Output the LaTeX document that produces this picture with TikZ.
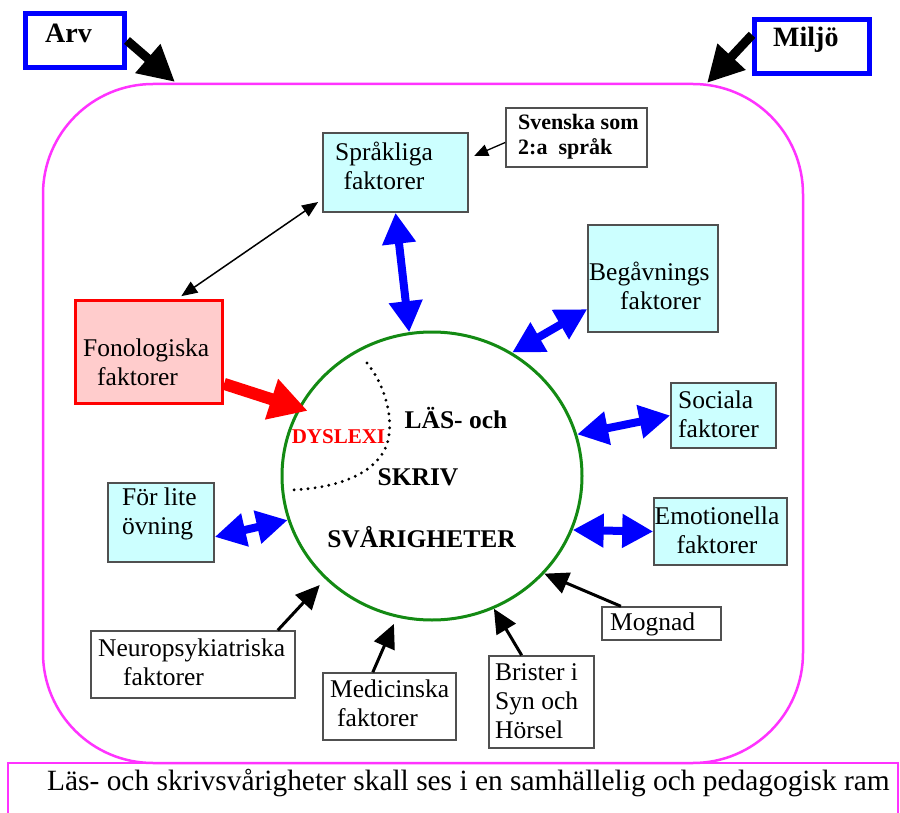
\documentclass[tikz,border=0pt]{standalone}
\usepackage{fontspec}
\setmainfont{Liberation Serif}
\usetikzlibrary{arrows.meta,shapes.geometric}
\definecolor{cyanfill}{HTML}{CCFFFF}
\definecolor{pinkfill}{HTML}{FFCCCC}
\definecolor{framecol}{HTML}{FF33FF}
\definecolor{circgreen}{HTML}{138A13}
\definecolor{boxline}{HTML}{505050}
\begin{document}
\begin{tikzpicture}[x=1pt,y=-1pt,
  box/.style={draw=boxline, line width=1.5pt, inner sep=0pt, rectangle},
  cbox/.style={box, fill=cyanfill},
  wbox/.style={box, fill=white},
  bluebox/.style={draw=blue, line width=5pt, inner sep=0pt, rectangle, fill=white},
  txt/.style={inner sep=0pt, font=\fontsize{25.5}{29}\selectfont},
  btxt/.style={inner sep=0pt, font=\bfseries\fontsize{25.5}{29}\selectfont},
  bluearr/.style={draw=blue, line width=8pt, {Triangle[length=31pt,width=32pt]}-{Triangle[length=31pt,width=32pt]}},
  blackarr/.style={draw=black, line width=3pt, -{Triangle[length=24pt,width=22pt]}},
  bigarr/.style={draw=black, line width=9pt, -{Triangle[length=36pt,width=36pt]}},
  redarr/.style={draw=red, line width=12pt, -{Triangle[length=38pt,width=40pt]}},
  thinarr/.style={draw=black, line width=1.3pt, -{Triangle[length=14pt,width=12pt]}},
  thindbl/.style={draw=black, line width=1.5pt, {Triangle[length=16pt,width=13pt]}-{Triangle[length=16pt,width=13pt]}}
]
\useasboundingbox (0,0) rectangle (900,813);
\fill[white] (0,0) rectangle (900,813);

% frames
\draw[framecol, line width=2.5pt, rounded corners=110pt] (43,84) rectangle (803,763);
\draw[framecol, line width=2.5pt] (8,820) -- (8,763) -- (898,763) -- (898,820);
\node[txt, font=\fontsize{29.4}{32}\selectfont, anchor=base west] (botT) at (47,790)
  {Läs- och skrivsvårigheter skall ses i en samhällelig och pedagogisk ram};

% Arv / Miljö
\node[bluebox, minimum width=99pt, minimum height=54pt] (arv) at (75,40.5) {};
\node[btxt, font=\bfseries\fontsize{28}{30}\selectfont, anchor=west] (arvT) at (45,33) {Arv};
\node[bluebox, minimum width=115pt, minimum height=54pt] (mil) at (812,46.5) {};
\node[btxt, font=\bfseries\fontsize{28}{30}\selectfont, anchor=west] (milT) at (773,40) {Miljö};
\coordinate (arvtip) at (175,82);
\coordinate (miltip) at (707,83);
\draw[bigarr] (arv.east) -- (arvtip);
\draw[bigarr] (mil.169) -- (miltip);

% boxes
\node[wbox, minimum width=141pt, minimum height=59pt] (sve) at (576.5,137.5) {};
\node[inner sep=0pt, font=\bfseries\fontsize{22}{25}\selectfont, align=left, anchor=west] (sveT) at (518,136.5) {Svenska som\\2:a\ \ språk};

\node[cbox, minimum width=145pt, minimum height=79pt] (spr) at (395.5,172.5) {};
\node[txt, align=center] (sprT) at (384,166) {Språkliga\\faktorer};

\node[cbox, minimum width=130pt, minimum height=107pt] (beg) at (653,278.5) {};
\node[txt, align=left, anchor=west] (begT) at (589,286) {Begåvnings\\\hspace*{31pt}faktorer};

\node[draw=red, fill=pinkfill, line width=3pt, inner sep=0pt, minimum width=147pt, minimum height=103pt] (fon) at (149,352) {};
\node[txt, align=left, anchor=west] (fonT) at (83,362) {Fonologiska\\\hspace*{14pt}faktorer};

\node[cbox, minimum width=105pt, minimum height=65pt] (soc) at (723.5,415.5) {};
\node[txt, align=left, anchor=west] (socT) at (678,414.5) {Sociala\\faktorer};

\node[cbox, minimum width=133pt, minimum height=67pt] (emo) at (720.5,531.5) {};
\node[txt, align=center] (emoT) at (717,530.5) {Emotionella\\faktorer};

\node[wbox, minimum width=119pt, minimum height=33pt] (mog) at (661.5,623.5) {};
\node[txt, anchor=west] (mogT) at (610,624) {Mognad};

\node[cbox, minimum width=106pt, minimum height=79pt] (fl) at (161,522.5) {};
\node[txt, align=left, anchor=west] (flT) at (122,513.5) {För lite\\övning};

\node[wbox, minimum width=204pt, minimum height=67pt] (neu) at (193,664.5) {};
\node[txt, align=left, anchor=west] (neuT) at (98,662) {Neuropsykiatriska\\\hspace*{25pt}faktorer};

\node[wbox, minimum width=133pt, minimum height=67pt] (med) at (389.5,706.5) {};
\node[txt, align=left, anchor=west] (medT) at (330,703.5) {Medicinska\\\hspace*{7pt}faktorer};

\node[wbox, minimum width=105pt, minimum height=92pt] (bri) at (541.5,702) {};
\node[txt, align=left, anchor=west] (briT) at (495,701) {Brister i\\Syn och\\Hörsel};

% circle
\node[ellipse, draw=circgreen, line width=3pt, minimum width=300pt, minimum height=288pt, inner sep=0pt] (circ) at (432,476) {};
\draw[black, line width=3.2pt, line cap=round, dash pattern=on 0pt off 7pt]
  (367,363) .. controls (385,385) and (392,415) .. (389,435)
  .. controls (385,470) and (342,489) .. (288,490);
\node[btxt] (lasT) at (456,418) {LÄS- och};
\node[btxt] (skrT) at (418,477) {SKRIV};
\node[btxt] (svaT) at (421.5,537) {SVÅRIGHETER};
\node[inner sep=0pt, text=red, font=\bfseries\fontsize{21}{24}\selectfont] (dysT) at (338.5,437) {DYSLEXI};

% arrows
\draw[bluearr] (spr.south) -- (circ.99.8);
\draw[bluearr] (beg.205.9) -- (circ.57.2);
\draw[bluearr] (soc.west) -- (circ.16);
\draw[bluearr] (emo.west) -- (circ.-21.4);
\draw[bluearr] (fl.-15.3) -- (circ.-163.2);
\draw[redarr, shorten >=-10pt] (fon.-23.7) -- (circ.153.9);
\draw[blackarr] (mog.157.3) -- (circ.-41.9);
\draw[blackarr] (bri.113) -- (circ.-65.9);
\draw[blackarr, shorten >=7pt] (med.116.2) -- (circ.-104.9);
\draw[blackarr, shorten >=8pt] (neu.22.2) -- (circ.-136.3);
\draw[thindbl, shorten <=5pt, shorten >=5pt] (fon.62.2) -- (spr.200.6);
\draw[thinarr, shorten >=6pt] (sve.184.5) -- (spr.11.2);
\end{tikzpicture}
\end{document}
